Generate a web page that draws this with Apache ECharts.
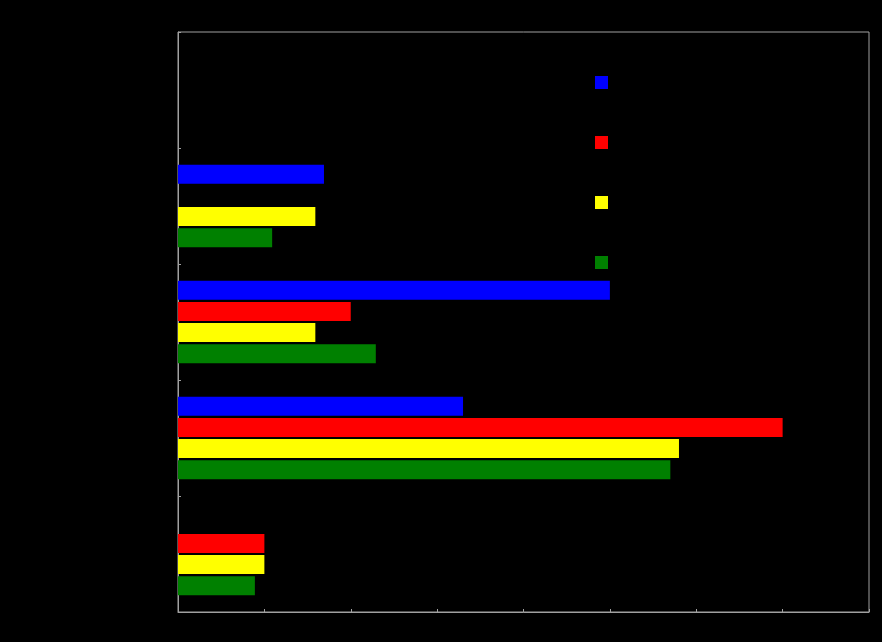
<!DOCTYPE html>
<html><head><meta charset="utf-8">
<style>html,body{margin:0;padding:0;background:#000;}#c{width:882px;height:642px;}</style>
<script src="https://cdn.jsdelivr.net/npm/echarts@6/dist/echarts.min.js"></script>
</head><body><div id="c"></div>
<script>
const categories = ['Category A', 'Category B', 'Category C', 'Category D', 'Category E'];
const seriesNames = ['Series 1', 'Series 2', 'Series 3', 'Series 4'];
const blueValues = [0, 8.45, 25, 16.5, 0];
const redValues = [0, 0, 10, 35, 5];
const yellowValues = [0, 7.95, 7.95, 29, 5];
const greenValues = [0, 5.45, 11.45, 28.5, 4.45];
const xTicks = [0, 5, 10, 15, 20, 25, 30, 35, 40];
const colors = ['#0000ff', '#ff0000', '#ffff00', '#008000'];

const chart = echarts.init(document.getElementById('c'));
const allValues = [blueValues, redValues, yellowValues, greenValues];
chart.setOption({
  backgroundColor: '#000000',
  animation: false,
  grid: { left: 178, right: 13, top: 32, bottom: 30, show: true, borderColor: '#a0a0a0', borderWidth: 1 },
  legend: {
    orient: 'vertical', left: 590, top: 71, itemWidth: 13, itemHeight: 13, itemGap: 47,
    icon: 'rect', textStyle: { color: '#000000', fontSize: 12 },
    data: seriesNames
  },
  xAxis: {
    type: 'value', min: xTicks[0], max: xTicks[xTicks.length - 1], interval: 5,
    axisLine: { show: true, lineStyle: { color: '#a0a0a0' } },
    axisTick: { show: true, inside: true, length: 3, lineStyle: { color: '#a0a0a0' } },
    splitLine: { show: false },
    axisLabel: { color: '#000000' }
  },
  yAxis: {
    type: 'category', data: categories, inverse: true,
    axisLine: { show: true, lineStyle: { color: '#a0a0a0' } },
    axisTick: { show: true, inside: true, length: 3, lineStyle: { color: '#a0a0a0' } },
    axisLabel: { color: '#000000' }
  },
  series: seriesNames.map((n, i) => ({
    name: n, type: 'bar', data: allValues[i], barWidth: 19, barGap: '11%',
    itemStyle: { color: colors[i] }
  }))
});
</script></body></html>
